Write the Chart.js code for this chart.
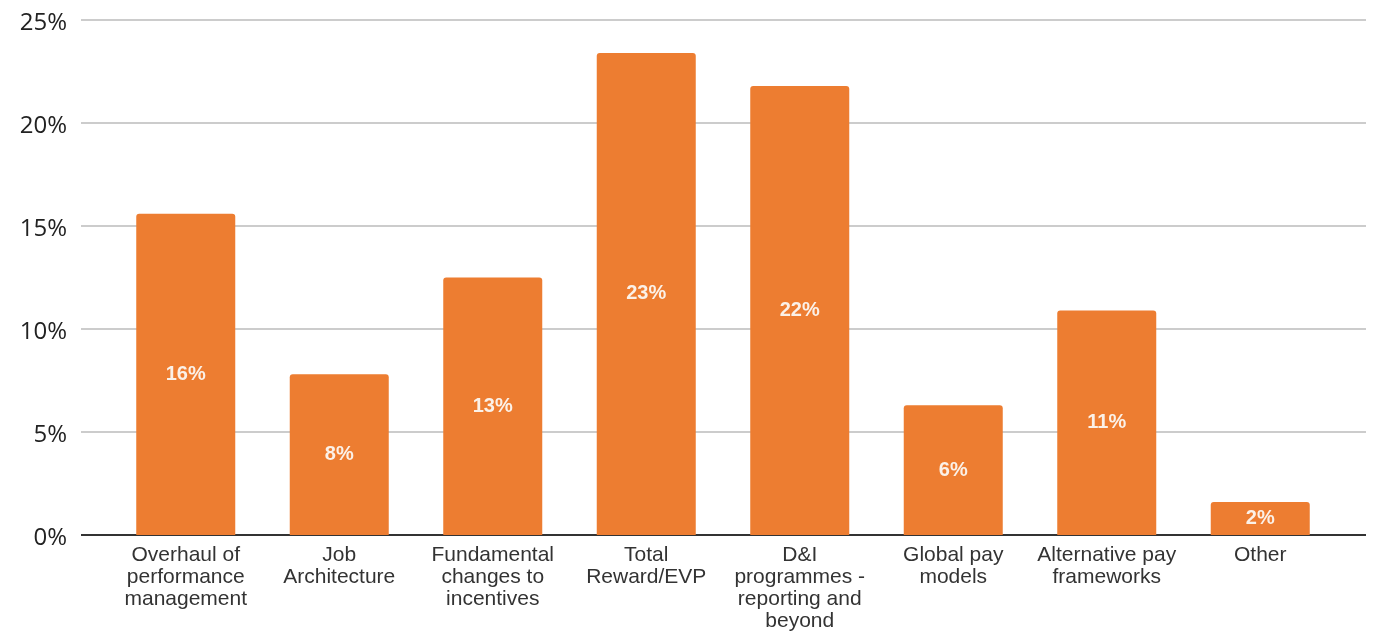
<!DOCTYPE html>
<html>
<head>
<meta charset="utf-8">
<script src="https://cdn.jsdelivr.net/npm/chart.js@4"></script>
<style>
  html, body { margin: 0; padding: 0; background: #fff; }
  #wrap { width: 1375px; height: 631px; }
</style>
</head>
<body>
<div id="wrap"><canvas id="chart"></canvas></div>
<script>
// categories (multi-line labels) and values in %
const categories = [
  ['Overhaul of', 'performance', 'management'],
  ['Job', 'Architecture'],
  ['Fundamental', 'changes to', 'incentives'],
  ['Total', 'Reward/EVP'],
  ['D&I', 'programmes -', 'reporting and', 'beyond'],
  ['Global pay', 'models'],
  ['Alternative pay', 'frameworks'],
  ['Other']
];
const values = [15.6, 7.8, 12.5, 23.4, 21.8, 6.3, 10.9, 1.6];
const yTicks = [0, 5, 10, 15, 20, 25];

// horizontal grid lines run wider than the bar area
const gridPlugin = {
  id: 'wideGrid',
  beforeDatasetsDraw(chart) {
    const ctx = chart.ctx;
    const y = chart.scales.y;
    const left = chart.chartArea.left - 28;
    const right = chart.chartArea.right + 29;
    ctx.save();
    yTicks.forEach(t => {
      const py = Math.round(y.getPixelForValue(t));
      ctx.beginPath();
      ctx.strokeStyle = t === 0 ? '#333333' : '#cccccc';
      ctx.lineWidth = 2;
      ctx.moveTo(left, py);
      ctx.lineTo(right, py);
      ctx.stroke();
    });
    ctx.restore();
  }
};

// value labels in the middle of each bar
const labelPlugin = {
  id: 'barLabels',
  afterDatasetsDraw(chart) {
    const ctx = chart.ctx;
    const meta = chart.getDatasetMeta(0);
    ctx.save();
    ctx.fillStyle = '#fbf1e8';
    ctx.font = 'bold 20px "Liberation Sans", Arial, sans-serif';
    ctx.textAlign = 'center';
    ctx.textBaseline = 'middle';
    meta.data.forEach((bar, i) => {
      const mid = (bar.y + bar.base) / 2;
      ctx.fillText(Math.round(values[i]) + '%', bar.x, mid);
    });
    ctx.restore();
  }
};

new Chart(document.getElementById('chart'), {
  type: 'bar',
  data: {
    labels: categories,
    datasets: [{
      data: values,
      backgroundColor: '#ed7d31',
      borderRadius: { topLeft: 3, topRight: 3 },
      borderSkipped: 'bottom',
      barPercentage: 0.645,
      categoryPercentage: 1
    }]
  },
  options: {
    responsive: true,
    maintainAspectRatio: false,
    animation: false,
    layout: { padding: { top: 20, right: 38, left: 0, bottom: 0 } },
    plugins: {
      legend: { display: false },
      tooltip: { enabled: false }
    },
    scales: {
      x: {
        grid: { display: false },
        border: { display: false },
        ticks: {
          color: '#333333',
          font: { family: '"Liberation Sans", Arial, sans-serif', size: 21, lineHeight: 1.05 },
          padding: 1,
          maxRotation: 0,
          autoSkip: false
        },
        afterFit(scale) {
          scale.height = 96;
          scale.paddingLeft = 0;
          scale.paddingRight = 0;
          scale.paddingTop = 0;
          scale.paddingBottom = 0;
        }
      },
      y: {
        min: 0,
        max: 25,
        grid: { display: false, drawTicks: false },
        border: { display: false },
        ticks: {
          stepSize: 5,
          color: '#222222',
          padding: 42,
          labelOffset: 3,
          font: { family: '"Open Sans", sans-serif', size: 24 },
          callback: v => v + '%'
        },
        afterFit(scale) {
          scale.width = 109;
          scale.paddingTop = 0;
          scale.paddingBottom = 0;
        }
      }
    }
  },
  plugins: [gridPlugin, labelPlugin]
});
</script>
</body>
</html>
